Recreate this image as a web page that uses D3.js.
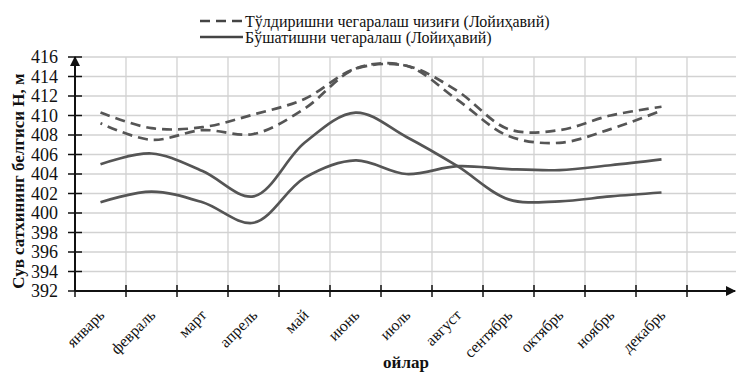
<!DOCTYPE html>
<html>
<head>
<meta charset="utf-8">
<script src="https://cdn.jsdelivr.net/npm/d3@7/dist/d3.min.js"></script>
<style>
  body { margin: 0; background: #fff; }
  svg { display: block; }
  text { font-family: "Liberation Serif", "DejaVu Serif", serif; fill: #111; }
</style>
</head>
<body>
<svg id="chart"></svg>
<script>
(function () {
  'use strict';

  var months = ['январь', 'февраль', 'март', 'апрель', 'май', 'июнь',
                'июль', 'август', 'сентябрь', 'октябрь', 'ноябрь', 'декабрь'];

  // Тўлдиришни чегаралаш чизиғи - two dashed boundary lines
  var fillUpper = [410.3, 408.7, 408.8, 410.1, 411.7, 414.8, 415.1, 412.5, 408.6, 408.5, 410.0, 410.9];
  var fillLower = [409.2, 407.5, 408.5, 408.1, 410.7, 414.8, 415.1, 411.6, 407.9, 407.2, 408.6, 410.5];

  // Бўшатишни чегаралаш - two solid boundary lines
  var drainUpper = [405.0, 406.1, 404.3, 401.7, 407.2, 410.3, 407.8, 404.8, 401.4, 401.2, 401.7, 402.1];
  var drainLower = [401.1, 402.2, 401.1, 399.0, 403.6, 405.4, 404.0, 404.8, 404.5, 404.4, 404.9, 405.5];

  var yTicks = [392, 394, 396, 398, 400, 402, 404, 406, 408, 410, 412, 414, 416];

  var legendItems = [
    { label: 'Тўлдиришни чегаралаш чизиғи (Лойиҳавий)', dash: '10,6' },
    { label: 'Бўшатишни  чегаралаш (Лойиҳавий)', dash: null }
  ];

  var W = 736, H = 372;
  var left = 75, bottom = 291, top = 57;
  var step = 51;
  var lineColor = '#555';

  var svg = d3.select('#chart')
      .attr('width', W)
      .attr('height', H);

  // 12 months + one empty slot at the end (the axis runs past декабрь)
  var slots = months.concat(['']);
  var x = d3.scaleBand()
      .domain(slots)
      .range([left, left + step * slots.length])
      .padding(0);

  var y = d3.scaleLinear()
      .domain([392, 416])
      .range([bottom, top]);

  // grid
  var grid = svg.append('g').attr('class', 'grid');
  grid.selectAll('line.h')
      .data(yTicks)
      .enter()
      .append('line')
      .attr('class', 'h')
      .attr('x1', left)
      .attr('x2', W)
      .attr('y1', function (d) { return y(d); })
      .attr('y2', function (d) { return y(d); })
      .style('stroke', '#d2d2d2')
      .style('stroke-width', 1.3);

  grid.selectAll('line.v')
      .data(months)
      .enter()
      .append('line')
      .attr('class', 'v')
      .attr('x1', function (d) { return x(d) + step; })
      .attr('x2', function (d) { return x(d) + step; })
      .attr('y1', top)
      .attr('y2', bottom)
      .style('stroke', '#d2d2d2')
      .style('stroke-width', 1.3);

  // arrow marker for the axes
  svg.append('defs').append('marker')
      .attr('id', 'arrow')
      .attr('viewBox', '0 0 10 10')
      .attr('refX', 9)
      .attr('refY', 5)
      .attr('markerWidth', 5)
      .attr('markerHeight', 5)
      .attr('markerUnits', 'strokeWidth')
      .attr('orient', 'auto')
      .append('path')
      .attr('d', 'M0,0 L10,5 L0,10 z')
      .style('fill', '#111');

  // y axis
  var yAxis = svg.append('g');
  yAxis.append('line')
      .attr('x1', left).attr('x2', left)
      .attr('y1', bottom).attr('y2', top)
      .attr('marker-end', 'url(#arrow)')
      .style('stroke', '#111')
      .style('stroke-width', 2);

  yAxis.selectAll('line.tick')
      .data(yTicks)
      .enter()
      .append('line')
      .attr('class', 'tick')
      .attr('x1', left - 7)
      .attr('x2', left + 7)
      .attr('y1', function (d) { return y(d); })
      .attr('y2', function (d) { return y(d); })
      .style('stroke', '#111')
      .style('stroke-width', 1.5);

  yAxis.selectAll('text')
      .data(yTicks)
      .enter()
      .append('text')
      .attr('x', 58)
      .attr('y', function (d) { return y(d); })
      .attr('dy', '0.35em')
      .attr('text-anchor', 'end')
      .style('font-size', '18px')
      .text(function (d) { return d; });

  svg.append('text')
      .attr('transform', 'translate(24,' + 181 + ') rotate(-90)')
      .attr('text-anchor', 'middle')
      .style('font-size', '17px')
      .style('font-weight', 'bold')
      .text('Сув сатхининг белгиси H, м');

  // x axis
  var xAxis = svg.append('g');
  xAxis.append('line')
      .attr('x1', left).attr('x2', 735)
      .attr('y1', bottom).attr('y2', bottom)
      .attr('marker-end', 'url(#arrow)')
      .style('stroke', '#111')
      .style('stroke-width', 2);

  xAxis.selectAll('line.tick')
      .data(slots)
      .enter()
      .append('line')
      .attr('class', 'tick')
      .attr('x1', function (d) { return x(d); })
      .attr('x2', function (d) { return x(d); })
      .attr('y1', bottom - 6)
      .attr('y2', bottom + 6)
      .style('stroke', '#111')
      .style('stroke-width', 1.5);

  xAxis.selectAll('text')
      .data(months)
      .enter()
      .append('text')
      .attr('transform', function (d) {
        return 'translate(' + (x(d) + step / 2 + 5) + ',' + 316 + ') rotate(-45)';
      })
      .attr('text-anchor', 'end')
      .style('font-size', '16px')
      .text(function (d) { return d; });

  svg.append('text')
      .attr('x', 406)
      .attr('y', 368)
      .attr('text-anchor', 'middle')
      .style('font-size', '17px')
      .style('font-weight', 'bold')
      .text('ойлар');

  // lines
  var line = d3.line()
      .x(function (d, i) { return x(months[i]) + step / 2; })
      .y(function (d) { return y(d); })
      .curve(d3.curveCatmullRom.alpha(0.5));

  var series = [
    { values: fillUpper, dash: '10,6', offset: 0 },
    { values: fillLower, dash: '10,6', offset: 8 },
    { values: drainUpper, dash: null },
    { values: drainLower, dash: null }
  ];

  svg.append('g').selectAll('path')
      .data(series)
      .enter()
      .append('path')
      .attr('d', function (d) { return line(d.values); })
      .style('fill', 'none')
      .style('stroke', lineColor)
      .style('stroke-width', 2.7)
      .style('stroke-dasharray', function (d) { return d.dash; })
      .style('stroke-dashoffset', function (d) { return d.offset || 0; });

  // legend
  var legend = svg.append('g');
  var rows = legend.selectAll('g')
      .data(legendItems)
      .enter()
      .append('g')
      .attr('transform', function (d, i) { return 'translate(200,' + (21 + i * 16) + ')'; });

  rows.append('line')
      .attr('x1', 0).attr('x2', 43)
      .attr('y1', 0).attr('y2', 0)
      .style('stroke', '#444')
      .style('stroke-width', 2.4)
      .style('stroke-dasharray', function (d) { return d.dash; });

  rows.append('text')
      .attr('x', 45)
      .attr('dy', '0.35em')
      .style('font-size', '16px')
      .text(function (d) { return d.label; });
} ());
</script>
</body>
</html>
